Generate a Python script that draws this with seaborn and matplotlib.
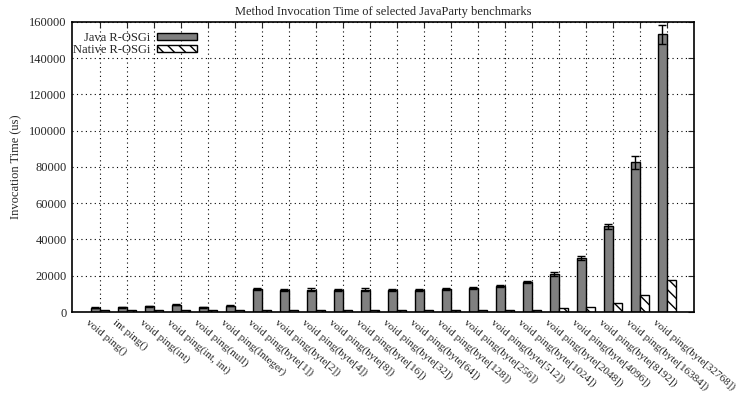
import matplotlib
matplotlib.use('Agg')
import matplotlib.pyplot as plt
import matplotlib.transforms as mtransforms
import numpy as np
import pandas as pd
import seaborn as sns

# benchmark methods and mean invocation times (us)
methods = ['void ping()', 'int ping()', 'void ping(int)', 'void ping(int, int)',
           'void ping(null)', 'void ping(Integer)', 'void ping(byte[1])',
           'void ping(byte[2])', 'void ping(byte[4])', 'void ping(byte[8])',
           'void ping(byte[16])', 'void ping(byte[32])', 'void ping(byte[64])',
           'void ping(byte[128])', 'void ping(byte[256])', 'void ping(byte[512])',
           'void ping(byte[1024])', 'void ping(byte[2048])', 'void ping(byte[4096])',
           'void ping(byte[8192])', 'void ping(byte[16384])', 'void ping(byte[32768])']
java_time = [2400, 2700, 3200, 4100, 2700, 3600, 12500, 12300, 12400, 12300, 12300,
             12100, 12200, 12900, 13300, 14300, 16600, 20900, 29700, 47300, 82600, 153000]
java_err = [300, 300, 300, 300, 300, 300, 500, 600, 900, 600, 700,
            500, 500, 500, 700, 600, 700, 900, 1000, 1500, 3500, 5000]
native_time = [1000, 1000, 1000, 1000, 1000, 1000, 1000, 1000, 1000, 1000, 1000,
               1000, 1000, 1000, 1000, 1100, 1400, 2000, 3000, 5200, 9300, 17500]
series = ['Java R-OSGi', 'Native R-OSGi']

df = pd.DataFrame({
    'method': methods * 2,
    'series': [series[0]] * len(methods) + [series[1]] * len(methods),
    'time': java_time + native_time,
})

sns.set_style('white')
plt.rcParams['font.family'] = ['Liberation Serif', 'DejaVu Serif']
plt.rcParams['hatch.linewidth'] = 1.0
fs = 9

fig = plt.figure(figsize=(7.43, 3.96), dpi=100)
ax = fig.add_axes([0.097, 0.212, 0.837, 0.733])

sns.barplot(data=df, x='method', y='time', hue='series', order=methods,
            hue_order=series, palette=['#808080', 'white'], width=0.67,
            errorbar=None, edgecolor='black', linewidth=1.0, ax=ax, legend=False)

# hatch the native bars
for bar in ax.containers[1]:
    bar.set_hatch('\\\\\\')

# error bars on the java bars
centers = [b.get_x() + b.get_width() / 2 for b in ax.containers[0]]
ax.errorbar(centers, java_time, yerr=java_err, fmt='none', ecolor='black',
            elinewidth=1.0, capsize=3, capthick=1.0)

ax.set_xlim(-1.03, 22.0)
ax.set_ylim(0, 160000)
ax.set_yticks(np.arange(0, 160001, 20000))
ax.set_yticklabels([str(v) for v in range(0, 160001, 20000)], fontsize=fs)

ax.grid(True, color='black', linestyle=(0, (1, 3)), linewidth=0.8)
ax.tick_params(axis='both', direction='in', length=4, width=0.8,
               top=True, right=True, pad=3)
ax.tick_params(axis='y', pad=4)
for s in ax.spines.values():
    s.set_linewidth(1.2)
    s.set_color('black')

ax.set_xlabel('')
ax.set_xticks(range(len(methods)))
ax.set_xticklabels(methods, rotation=-40, ha='left', va='top',
                   rotation_mode='anchor', fontsize=8)
offset = mtransforms.ScaledTranslation(-10 / 100, -1 / 100, fig.dpi_scale_trans)
for lab in ax.get_xticklabels():
    lab.set_transform(lab.get_transform() + offset)

ax.set_ylabel('Invocation Time (us)', fontsize=fs, labelpad=5)
ax.set_title('Method Invocation Time of selected JavaParty benchmarks',
             fontsize=fs, pad=5)

handles = [plt.Rectangle((0, 0), 1, 1, facecolor='#808080', edgecolor='black'),
           plt.Rectangle((0, 0), 1, 1, facecolor='white', edgecolor='black',
                         hatch='\\\\\\')]
ax.legend(handles, series, loc='upper left', bbox_to_anchor=(-0.01, 0.99),
          frameon=False, markerfirst=False, fontsize=fs, handlelength=3.2,
          handleheight=0.45, labelspacing=0.0, handletextpad=0.5,
          borderaxespad=0.2)

fig.savefig('out.png', dpi=100)
